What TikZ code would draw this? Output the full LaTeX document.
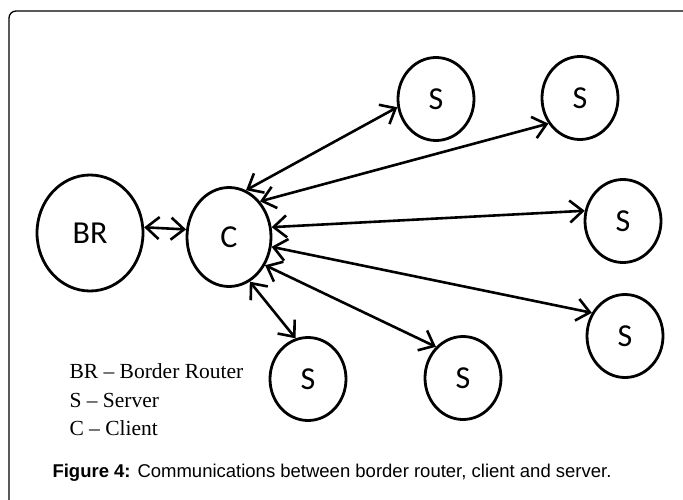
\documentclass[tikz,border=0pt]{standalone}
\usepackage{fontspec}
\usepackage{tikz}
\usetikzlibrary{arrows.meta,shapes.geometric}
\newfontfamily\nodefont{Carlito}
\newfontfamily\legfont{Liberation Serif}
\newfontfamily\capfont{Liberation Sans}

\begin{document}
\begin{tikzpicture}[x=1pt,y=-1pt,>={Straight Barb[length=13pt,width=22pt]},
      host/.style={ellipse,draw,line width=2.8pt,inner sep=0pt,
        font=\nodefont\fontsize{32}{32}\selectfont},
      srv/.style={host,minimum width=76pt,minimum height=83pt},
      link/.style={<->,line width=2.6pt},
      legend/.style={anchor=base west,font=\legfont\fontsize{21.5}{21.5}\selectfont}]

    \useasboundingbox (0,0) rectangle (683,500);
    \clip (0,0) rectangle (683,500);
    \draw[line width=1.3pt,rounded corners=7pt] (9,11) rectangle (720,540);

    \node[host,minimum width=106pt,minimum height=116pt] (BR) at (90,233) {BR};
    \node[host,minimum width=84pt,minimum height=99pt] (C) at (229,237) {C};
    \node[srv] (Sa) at (436,99) {S};
    \node[srv] (Sb) at (580,98) {S};
    \node[srv] (Sc) at (623,221) {S};
    \node[srv] (Sd) at (625,336) {S};
    \node[srv] (Se) at (463,378) {S};
    \node[srv] (Sf) at (308,379) {S};

    \draw[link] (BR.6) -- (C.170);
    \draw[link] (C.70) -- (Sa.192);
    \draw[link] (C.49) -- (Sb.219);
    \draw[link] (C.13) -- (Sc.165);
    \draw[link] (C.-13) -- (Sd.145);
    \draw[link] (C.-38) -- (Se.131);
    \draw[link] (C.-65) -- (Sf.107);

    \node[legend] (lbr) at (66,378) {BR – Border Router};
    \node[legend] (ls) at (66,407) {S – Server};
    \node[legend] (lc) at (66,435) {C – Client};

    \node[anchor=base west,font=\capfont\fontsize{18.5}{18.5}\selectfont] (cap) at (49,477)
      {\textbf{Figure 4:} Communications between border router, client and server.};

\end{tikzpicture}
\end{document}
